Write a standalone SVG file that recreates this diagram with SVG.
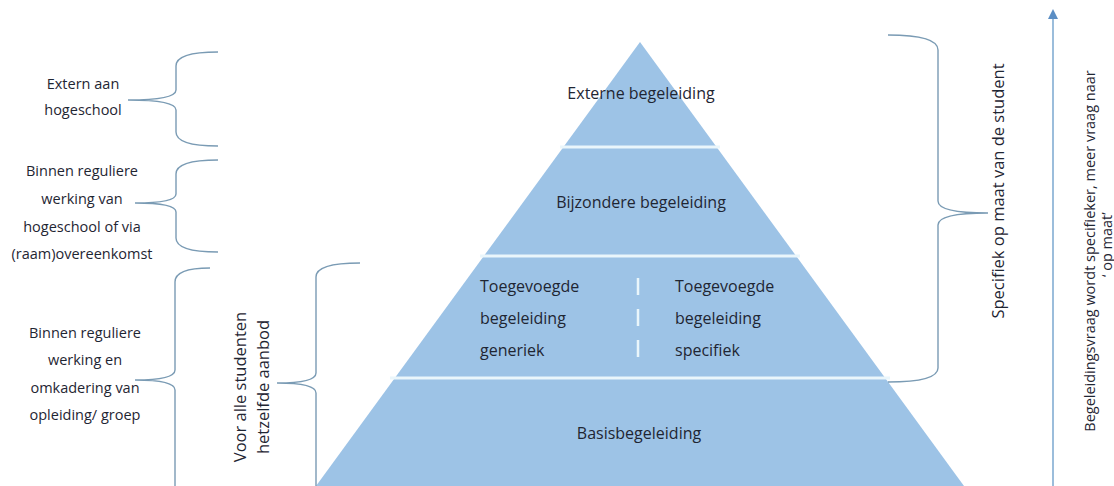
<svg xmlns="http://www.w3.org/2000/svg" width="1114" height="486" viewBox="0 0 1114 486">
<style>
text{font-family:"Open Sans","Liberation Sans",sans-serif;font-size:14.5px;fill:#1f2633}
.c{text-anchor:middle}
.p{font-size:16px}
.br{fill:none;stroke:#7a9bb4;stroke-width:1.4}
.sep{stroke:#eaf6fb;stroke-width:3}
.tier{fill:#9dc3e6}
</style>
<defs>
<marker id="ah" viewBox="0 0 10 10" refX="5" refY="5" markerWidth="10" markerHeight="10" orient="auto" markerUnits="userSpaceOnUse">
<path d="M0,0 L10,5 L0,10 z" fill="#5b8ec4"/>
</marker>
</defs>
<rect width="1114" height="486" fill="#ffffff"/>
<g id="pyramid">
<polygon class="tier" points="640,42 964,486 316,486"/>
<line class="sep" x1="560" y1="147" x2="720" y2="147"/>
<line class="sep" x1="480" y1="256" x2="800" y2="256"/>
<line class="sep" x1="390" y1="378" x2="890" y2="378"/>
</g>
<g id="tier-externe"><text class="c p" x="641" y="99">Externe begeleiding</text></g>
<g id="tier-bijzondere"><text class="c p" x="641" y="208">Bijzondere begeleiding</text></g>
<g id="tier-toegevoegd">
<text class="p" x="480" y="292">Toegevoegde</text>
<text class="p" x="480" y="324">begeleiding</text>
<text class="p" x="480" y="356">generiek</text>
<line x1="638" y1="278" x2="638" y2="360" stroke="#eaf6fb" stroke-width="2.5" stroke-dasharray="17,14"/>
<text class="p" x="675" y="292">Toegevoegde</text>
<text class="p" x="675" y="324">begeleiding</text>
<text class="p" x="675" y="356">specifiek</text>
</g>
<g id="tier-basis"><text class="c p" x="639" y="439">Basisbegeleiding</text></g>
<g id="connectors">
<path class="br" d="M218,52 Q176,52 176,66 L176,90 Q176,100 128,100 Q176,100 176,110 L176,132 Q176,146 218,146"/>
<path class="br" d="M218,160 Q176,160 176,174 L176,194 Q176,203 135,203 Q176,203 176,212 L176,238 Q176,252 218,252"/>
<path class="br" d="M210,268 Q175,268 175,282 L175,370 Q175,380 135,380 Q175,380 175,390 L175,486"/>
<path class="br" d="M360,263 Q316,263 316,277 L316,373 Q316,383 277,383 Q316,383 316,393 L316,486"/>
<path class="br" d="M888,35 Q938,35 938,50 L938,201 Q938,213 988,213 Q938,213 938,225 L938,368 Q938,382 888,382"/>
<line x1="1053" y1="486" x2="1053" y2="14" stroke="#7aa7cf" stroke-width="1.5" marker-end="url(#ah)"/>
</g>
<g id="label-extern">
<text class="c" x="83" y="89">Extern aan</text>
<text class="c" x="83" y="115">hogeschool</text>
</g>
<g id="label-binnen1">
<text class="c" x="82" y="176">Binnen reguliere</text>
<text class="c" x="82" y="204">werking van</text>
<text class="c" x="82" y="232">hogeschool of via</text>
<text class="c" x="82" y="259">(raam)overeenkomst</text>
</g>
<g id="label-binnen2">
<text class="c" x="85" y="338">Binnen reguliere</text>
<text class="c" x="85" y="365">werking en</text>
<text class="c" x="85" y="393">omkadering van</text>
<text class="c" x="85" y="420">opleiding/ groep</text>
</g>
<g id="label-voor">
<text class="c" style="font-size:16.5px" transform="translate(246,387) rotate(-90)">Voor alle studenten</text>
<text class="c" style="font-size:16.5px" transform="translate(269,387) rotate(-90)">hetzelfde aanbod</text>
</g>
<g id="label-specifiek">
<text class="c" style="font-size:16.5px" transform="translate(1004,191) rotate(-90)">Specifiek op maat van de student</text>
</g>
<g id="label-arrow">
<text class="c" transform="translate(1095,251) rotate(-90)">Begeleidingsvraag wordt specifieker, meer vraag naar</text>
<text transform="translate(1112,277) rotate(-90)">‘ op maat’</text>
</g>
</svg>
